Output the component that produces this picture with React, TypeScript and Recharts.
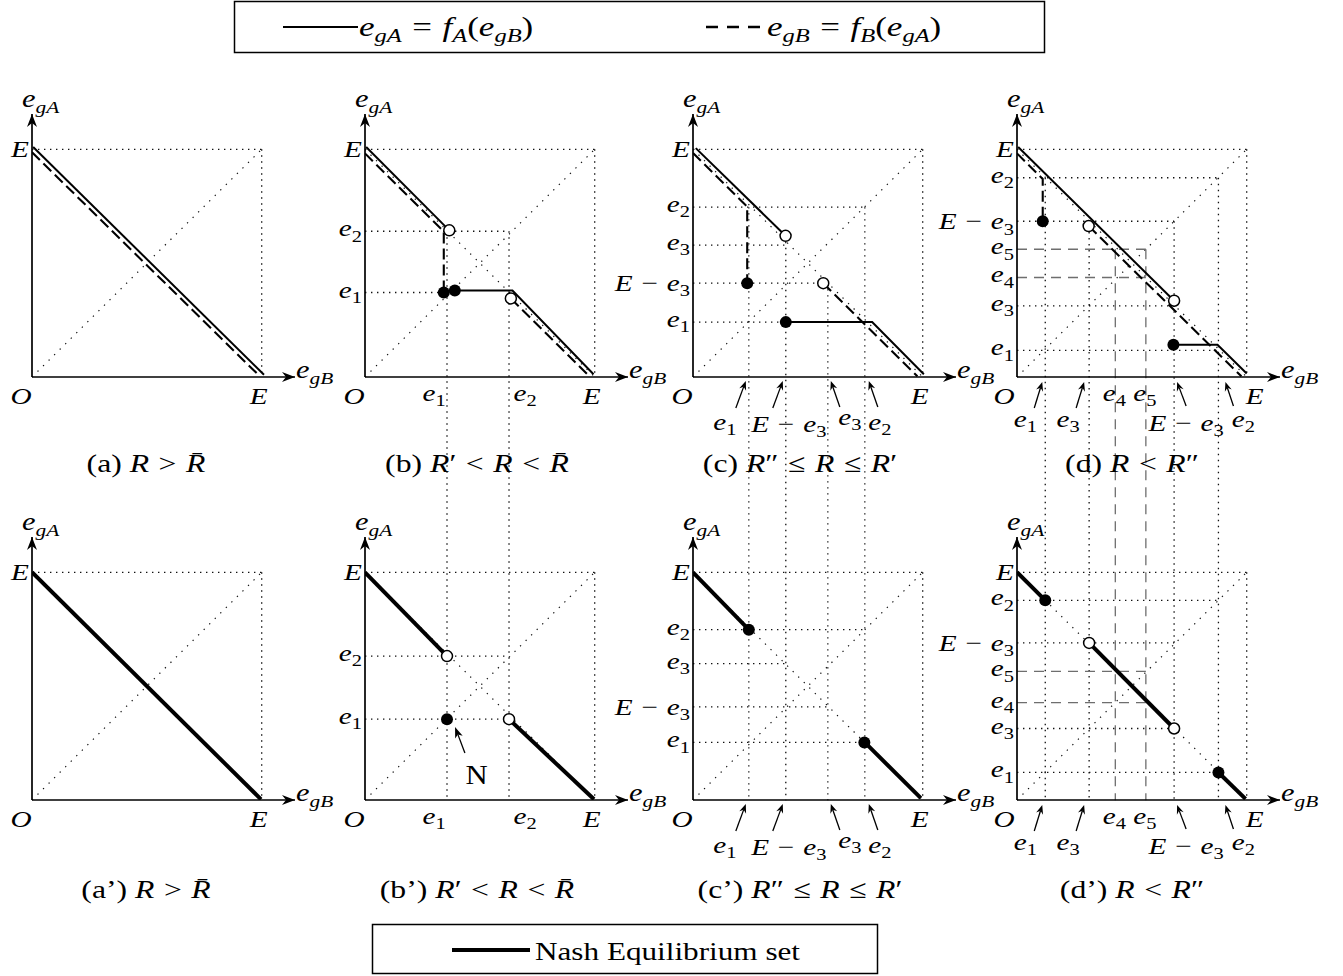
import React from 'react';
import { ComposedChart, XAxis, YAxis, Line, Scatter, ReferenceLine, ReferenceDot } from 'recharts';

type Pt = { x: number; y: number };
type Tick = { value: number; label: string };
type HLine = { y: number; to: number };
type VLine = { x: number; from: number };
type XPos = { dx: number; dy: number; arrow?: number[] };

// ---------- common values ----------
const E = 10;
const X_MAX = 11.45;
const Y_MAX = 11.55;
const ROW_GAP = 18.59; // distance (in y units) from top-row origin down to bottom-row origin

// ---------- legend / captions ----------
const legendTopLabels = ['e_{gA} = f_A(e_{gB})', 'e_{gB} = f_B(e_{gA})'];
const legendBottomLabel = '[Nash Equilibrium set]';
const captionsTop = ['[(a) ]R > R\u0304', '[(b) ]R\u2032 < R < R\u0304', '[(c) ]R\u2033 \u2264 R \u2264 R\u2032', '[(d) ]R < R\u2033'];
const captionsBottom = ['[(a\u2019) ]R > R\u0304', '[(b\u2019) ]R\u2032 < R < R\u0304', '[(c\u2019) ]R\u2033 \u2264 R \u2264 R\u2032', '[(d\u2019) ]R < R\u2033'];

// ---------- panel (a) ----------
const aXTicks: Tick[] = [{ value: 0, label: 'O' }, { value: 10, label: 'E' }];
const aYTicks: Tick[] = [{ value: 10, label: 'E' }];
const aSolid: Pt[] = [{ x: 0.05, y: 10.1 }, { x: 10.1, y: 0.1 }];
const aDashed: Pt[] = [{ x: 0, y: 9.87 }, { x: 9.9, y: 0.05 }];

// ---------- panel (b) ----------
const bXTicks: Tick[] = [{ value: 0, label: 'O' }, { value: 3.57, label: 'e_1' }, { value: 6.27, label: 'e_2' }, { value: 10, label: 'E' }];
const bYTicks: Tick[] = [{ value: 10, label: 'E' }, { value: 6.4, label: 'e_2' }, { value: 3.71, label: 'e_1' }];
const bSolidA: Pt[] = [{ x: 0.05, y: 10.1 }, { x: 3.67, y: 6.44 }];
const bSolidB: Pt[] = [{ x: 3.91, y: 3.8 }, { x: 6.42, y: 3.8 }, { x: 9.95, y: 0.12 }];
const bDashedA: Pt[] = [{ x: 0, y: 9.82 }, { x: 3.43, y: 6.39 }, { x: 3.43, y: 3.71 }];
const bDashedB: Pt[] = [{ x: 6.35, y: 3.45 }, { x: 9.77, y: 0.03 }];
const bFilled: Pt[] = [{ x: 3.43, y: 3.71 }, { x: 3.91, y: 3.8 }];
const bOpen: Pt[] = [{ x: 3.67, y: 6.44 }, { x: 6.35, y: 3.45 }];
const bHLines: HLine[] = [{ y: 6.4, to: 6.27 }, { y: 3.71, to: 3.57 }];
const bVLines: VLine[] = [{ x: 3.57, from: 6.4 }, { x: 6.27, from: 6.4 }];

// ---------- panel (c) ----------
const cXTicks: Tick[] = [{ value: 0, label: 'O' }, { value: 2.43, label: 'e_1' }, { value: 4.04, label: 'E − e_3' }, { value: 5.87, label: 'e_3' }, { value: 7.48, label: 'e_2' }, { value: 10, label: 'E' }];
const cYTicks: Tick[] = [{ value: 10, label: 'E' }, { value: 7.46, label: 'e_2' }, { value: 5.79, label: 'e_3' }, { value: 4.12, label: 'E − e_3' }, { value: 2.41, label: 'e_1' }];
const cSolidA: Pt[] = [{ x: 0.12, y: 10.05 }, { x: 4.03, y: 6.2 }];
const cSolidB: Pt[] = [{ x: 4.04, y: 2.41 }, { x: 7.8, y: 2.41 }, { x: 10.05, y: 0.12 }];
const cDashedA: Pt[] = [{ x: 0, y: 9.84 }, { x: 2.36, y: 7.48 }, { x: 2.36, y: 4.12 }];
const cDashedB: Pt[] = [{ x: 5.67, y: 4.12 }, { x: 9.77, y: 0.03 }];
const cFilled: Pt[] = [{ x: 2.36, y: 4.12 }, { x: 4.04, y: 2.41 }];
const cOpen: Pt[] = [{ x: 4.03, y: 6.2 }, { x: 5.67, y: 4.12 }];
const cHLines: HLine[] = [{ y: 7.46, to: 7.48 }, { y: 5.79, to: 4.04 }, { y: 4.12, to: 5.87 }, { y: 2.41, to: 4.04 }];
const cVLines: VLine[] = [{ x: 2.43, from: 7.46 }, { x: 4.04, from: 6.2 }, { x: 5.87, from: 4.12 }, { x: 7.48, from: 7.46 }];

// ---------- panel (d) ----------
const dXTicks: Tick[] = [{ value: 0, label: 'O' }, { value: 1.23, label: 'e_1' }, { value: 3.14, label: 'e_3' }, { value: 4.28, label: 'e_4' }, { value: 5.61, label: 'e_5' }, { value: 6.84, label: 'E − e_3' }, { value: 8.77, label: 'e_2' }, { value: 10, label: 'E' }];
const dYTicks: Tick[] = [{ value: 10, label: 'E' }, { value: 8.75, label: 'e_2' }, { value: 6.84, label: 'E − e_3' }, { value: 5.61, label: 'e_5' }, { value: 4.37, label: 'e_4' }, { value: 3.12, label: 'e_3' }, { value: 1.17, label: 'e_1' }];
const dSolidA: Pt[] = [{ x: 0.05, y: 10.1 }, { x: 6.84, y: 3.35 }];
const dSolidB: Pt[] = [{ x: 6.81, y: 1.42 }, { x: 8.73, y: 1.42 }, { x: 10, y: 0.15 }];
const dDashedA: Pt[] = [{ x: 0, y: 9.82 }, { x: 1.12, y: 8.7 }, { x: 1.12, y: 6.84 }];
const dDashedB: Pt[] = [{ x: 3.12, y: 6.63 }, { x: 9.77, y: 0.03 }];
const dFilled: Pt[] = [{ x: 1.12, y: 6.84 }, { x: 6.81, y: 1.42 }];
const dOpen: Pt[] = [{ x: 3.12, y: 6.63 }, { x: 6.84, y: 3.35 }];
const dHLines: HLine[] = [{ y: 8.75, to: 8.77 }, { y: 6.84, to: 6.84 }, { y: 3.12, to: 6.84 }, { y: 1.17, to: 8.77 }];
const dVLines: VLine[] = [{ x: 1.23, from: 8.75 }, { x: 3.14, from: 6.63 }, { x: 6.84, from: 6.84 }, { x: 8.77, from: 8.75 }];
const dGrayH: HLine[] = [{ y: 5.61, to: 5.61 }, { y: 4.37, to: 5.61 }];
const dGrayV: VLine[] = [{ x: 4.28, from: 5.61 }, { x: 5.61, from: 5.61 }];

// ---------- panel (a') ----------
const apThick: Pt[] = [{ x: 0, y: 10 }, { x: 9.97, y: 0.03 }];

// ---------- panel (b') ----------
const bpYTicks: Tick[] = [{ value: 10, label: 'E' }, { value: 6.32, label: 'e_2' }, { value: 3.55, label: 'e_1' }];
const bpThickA: Pt[] = [{ x: 0, y: 10 }, { x: 3.57, y: 6.32 }];
const bpThickB: Pt[] = [{ x: 6.27, y: 3.55 }, { x: 9.97, y: 0.03 }];
const bpFilled: Pt[] = [{ x: 3.57, y: 3.55 }];
const bpOpen: Pt[] = [{ x: 3.57, y: 6.32 }, { x: 6.27, y: 3.55 }];
const bpHLines: HLine[] = [{ y: 6.32, to: 6.27 }, { y: 3.55, to: 6.27 }];
const bpArrow: Pt[] = [{ x: 4.35, y: 2.06 }, { x: 3.92, y: 3.21 }];
const bpNote = { x: 4.86, y: 0.72, label: '[N]' };

// ---------- panel (c') ----------
const cpYTicks: Tick[] = [{ value: 10, label: 'E' }, { value: 7.48, label: 'e_2' }, { value: 5.99, label: 'e_3' }, { value: 4.09, label: 'E − e_3' }, { value: 2.53, label: 'e_1' }];
const cpThickA: Pt[] = [{ x: 0, y: 10 }, { x: 2.43, y: 7.48 }];
const cpThickB: Pt[] = [{ x: 7.48, y: 2.53 }, { x: 9.92, y: 0.08 }];
const cpFilled: Pt[] = [{ x: 2.43, y: 7.48 }, { x: 7.46, y: 2.53 }];
const cpHLines: HLine[] = [{ y: 7.48, to: 7.48 }, { y: 5.99, to: 4.04 }, { y: 4.09, to: 5.87 }, { y: 2.53, to: 7.48 }];

// ---------- panel (d') ----------
const dpYTicks: Tick[] = [{ value: 10, label: 'E' }, { value: 8.77, label: 'e_2' }, { value: 6.9, label: 'E − e_3' }, { value: 5.65, label: 'e_5' }, { value: 4.28, label: 'e_4' }, { value: 3.14, label: 'e_3' }, { value: 1.21, label: 'e_1' }];
const dpThickA: Pt[] = [{ x: 0, y: 10 }, { x: 1.23, y: 8.77 }];
const dpThickB: Pt[] = [{ x: 3.14, y: 6.9 }, { x: 6.84, y: 3.14 }];
const dpThickC: Pt[] = [{ x: 8.77, y: 1.21 }, { x: 9.95, y: 0.05 }];
const dpFilled: Pt[] = [{ x: 1.23, y: 8.77 }, { x: 8.77, y: 1.21 }];
const dpOpen: Pt[] = [{ x: 3.14, y: 6.9 }, { x: 6.84, y: 3.14 }];
const dpHLines: HLine[] = [{ y: 8.77, to: 8.77 }, { y: 6.9, to: 6.84 }, { y: 3.14, to: 6.84 }, { y: 1.21, to: 8.77 }];
const dpGrayH: HLine[] = [{ y: 5.65, to: 5.61 }, { y: 4.28, to: 5.61 }];

// ---------- layout (positions / styles) ----------
const COL_X = [32, 365, 693, 1016.7];
const ROW_Y = [376.7, 800];
const CAPTION_X = [146, 477, 800, 1132];
const CAPTION_Y = [472, 898];
const ML = 130, MR = 90, MT = 50, PW = 263, PH = 263, MB_TOP = 445, MB_BOT = 80;
const FONT = "'Liberation Serif', 'Times New Roman', Times, serif";
const STRETCH = 1.22;
const TICK_SIZE = 24;
const SUB_SHIFT = 0.22;
const OP_GAP = 0.3;

const aXPos: XPos[] = [{ dx: -11, dy: 27 }, { dx: -3, dy: 27 }];
const bXPos: XPos[] = [{ dx: -11, dy: 27 }, { dx: -13, dy: 24 }, { dx: 16, dy: 24 }, { dx: -3, dy: 27 }];
const cXPos: XPos[] = [
  { dx: -11, dy: 27 },
  { dx: -24, dy: 53, arrow: [-13, 31, -3, 4] },
  { dx: 3, dy: 55, arrow: [-13, 31, -3, 4] },
  { dx: 22, dy: 48, arrow: [12, 30, 3, 4] },
  { dx: 15, dy: 53, arrow: [13, 30, 4, 4] },
  { dx: -3, dy: 27 },
];
const dXPos: XPos[] = [
  { dx: -13, dy: 27 },
  { dx: -20, dy: 50, arrow: [-11, 31, -3, 5] },
  { dx: -21, dy: 50, arrow: [-13, 31, -5, 5] },
  { dx: -1, dy: 24 },
  { dx: -1, dy: 24 },
  { dx: 12, dy: 54, arrow: [12, 29, 3, 5] },
  { dx: 25, dy: 50, arrow: [15, 29, 7, 5] },
  { dx: 8, dy: 27 },
];

const AXIS = { stroke: '#000', strokeWidth: 1.7 };
const DOT = { stroke: '#111', strokeWidth: 1.3, strokeDasharray: '1.4 4.6' };
const DIAG = { stroke: '#111', strokeWidth: 1.2, strokeDasharray: '1.3 6.5' };
const GRAY = { stroke: '#6e6e6e', strokeWidth: 1.3, strokeDasharray: '10 7' };

// ---------- math text helper ----------
type Tok = { t: string; italic: boolean; sub: boolean; op: boolean };
function tokenize(s: string): Tok[] {
  const out: Tok[] = [];
  let i = 0;
  while (i < s.length) {
    const c = s[i];
    if (c === '[') {
      const j = s.indexOf(']', i);
      out.push({ t: s.slice(i + 1, j), italic: false, sub: false, op: false });
      i = j + 1;
      continue;
    }
    if (c === '_') {
      let grp: string;
      if (s[i + 1] === '{') {
        const j = s.indexOf('}', i);
        grp = s.slice(i + 2, j);
        i = j + 1;
      } else {
        grp = s[i + 1];
        i += 2;
      }
      for (const g of grp) out.push({ t: g, italic: /[A-Za-z]/.test(g), sub: true, op: false });
      continue;
    }
    if (c === ' ') { i++; continue; }
    if (c === '\u0304') {
      if (out.length) out[out.length - 1].t += c;
      i++;
      continue;
    }
    if ('−=<>≤'.includes(c)) {
      out.push({ t: c, italic: false, sub: false, op: true });
      i++;
      continue;
    }
    out.push({ t: c, italic: /[A-Za-z]/.test(c), sub: false, op: false });
    i++;
  }
  return out;
}

function MathText({ x, y, s, size = TICK_SIZE, anchor = 'start', stretch = STRETCH }: { x: number; y: number; s: string; size?: number; anchor?: string; stretch?: number }) {
  const toks = tokenize(s);
  const kids: React.ReactNode[] = [];
  let cur = 0;
  let pend = 0;
  toks.forEach((t, i) => {
    const target = t.sub ? size * SUB_SHIFT : 0;
    const dy = target - cur;
    cur = target;
    let dx = pend;
    pend = 0;
    if (t.op) {
      dx += size * OP_GAP;
      pend = size * OP_GAP;
    }
    kids.push(
      <tspan key={i} dy={dy !== 0 ? dy : undefined} dx={dx !== 0 ? dx : undefined} fontSize={t.sub ? size * 0.7 : size} fontStyle={t.italic ? 'italic' : 'normal'}>
        {t.t}
      </tspan>
    );
  });
  return (
    <g transform={`translate(${x},${y}) scale(${stretch},1)`}>
      <text x={0} y={0} textAnchor={anchor as any} fontFamily={FONT} fill="#000" style={{ whiteSpace: 'pre' }}>
        {kids}
      </text>
    </g>
  );
}

function headPts(x1: number, y1: number, x2: number, y2: number, len: number, half: number, notch: number) {
  const L = Math.hypot(x2 - x1, y2 - y1) || 1;
  const ux = (x2 - x1) / L, uy = (y2 - y1) / L;
  const px = -uy, py = ux;
  const bx = x2 - ux * len, by = y2 - uy * len;
  return `${x2},${y2} ${bx + px * half},${by + py * half} ${x2 - ux * (len - notch)},${y2 - uy * (len - notch)} ${bx - px * half},${by - py * half}`;
}

function Arrow({ x1, y1, x2, y2, w = 1.3, len = 9, half = 3.6 }: { x1: number; y1: number; x2: number; y2: number; w?: number; len?: number; half?: number }) {
  const L = Math.hypot(x2 - x1, y2 - y1) || 1;
  const ux = (x2 - x1) / L, uy = (y2 - y1) / L;
  return (
    <g>
      <line x1={x1} y1={y1} x2={x2 - ux * (len - 3)} y2={y2 - uy * (len - 3)} stroke="#000" strokeWidth={w} />
      <polygon points={headPts(x1, y1, x2, y2, len, half, 3)} fill="#000" />
    </g>
  );
}

// ---------- panel config ----------
interface PanelCfg {
  col: number;
  row: number;
  xTicks: Tick[];
  xPos: XPos[];
  yTicks: Tick[];
  solid?: Pt[][];
  dashed?: Pt[][];
  thick?: Pt[][];
  filled?: Pt[];
  open?: Pt[];
  hLines?: HLine[];
  vLines?: VLine[];
  grayH?: HLine[];
  grayV?: VLine[];
  anti?: boolean;
  arrows?: Pt[][];
  notes?: { x: number; y: number; label: string }[];
}

const panels: PanelCfg[] = [
  { col: 0, row: 0, xTicks: aXTicks, xPos: aXPos, yTicks: aYTicks, solid: [aSolid], dashed: [aDashed] },
  { col: 1, row: 0, xTicks: bXTicks, xPos: bXPos, yTicks: bYTicks, solid: [bSolidA, bSolidB], dashed: [bDashedA, bDashedB], filled: bFilled, open: bOpen, hLines: bHLines, vLines: bVLines, anti: true },
  { col: 2, row: 0, xTicks: cXTicks, xPos: cXPos, yTicks: cYTicks, solid: [cSolidA, cSolidB], dashed: [cDashedA, cDashedB], filled: cFilled, open: cOpen, hLines: cHLines, vLines: cVLines, anti: true },
  { col: 3, row: 0, xTicks: dXTicks, xPos: dXPos, yTicks: dYTicks, solid: [dSolidA, dSolidB], dashed: [dDashedA, dDashedB], filled: dFilled, open: dOpen, hLines: dHLines, vLines: dVLines, grayH: dGrayH, grayV: dGrayV, anti: true },
  { col: 0, row: 1, xTicks: aXTicks, xPos: aXPos, yTicks: aYTicks, thick: [apThick] },
  { col: 1, row: 1, xTicks: bXTicks, xPos: bXPos, yTicks: bpYTicks, thick: [bpThickA, bpThickB], filled: bpFilled, open: bpOpen, hLines: bpHLines, anti: true, arrows: [bpArrow], notes: [bpNote] },
  { col: 2, row: 1, xTicks: cXTicks, xPos: cXPos, yTicks: cpYTicks, thick: [cpThickA, cpThickB], filled: cpFilled, hLines: cpHLines, anti: true },
  { col: 3, row: 1, xTicks: dXTicks, xPos: dXPos, yTicks: dpYTicks, thick: [dpThickA, dpThickB, dpThickC], filled: dpFilled, open: dpOpen, hLines: dpHLines, grayH: dpGrayH, anti: true },
];

function yDy(label: string) {
  if (label === 'E') return 8;
  if (label.startsWith('E')) return 8;
  return 5;
}

function Panel({ cfg }: { cfg: PanelCfg }) {
  const top = cfg.row === 0;
  const mb = top ? MB_TOP : MB_BOT;
  const W = ML + PW + MR;
  const H = MT + PH + mb;
  const axisX = ML;
  const axisY = MT + PH;
  const floor = top ? -ROW_GAP : 0;
  const ox = COL_X[cfg.col];
  const oy = ROW_Y[cfg.row];

  const findIdx = (ticks: Tick[], v: number) => ticks.findIndex((t) => Math.abs(t.value - v) < 1e-6);

  const xTick = (props: any) => {
    const { x, payload } = props;
    const i = findIdx(cfg.xTicks, payload.value);
    if (i < 0) return <g />;
    const p = cfg.xPos[i];
    return (
      <g>
        {p.arrow ? <Arrow x1={x + p.arrow[0]} y1={axisY + p.arrow[1]} x2={x + p.arrow[2]} y2={axisY + p.arrow[3]} /> : null}
        <MathText x={x + p.dx} y={axisY + p.dy} s={cfg.xTicks[i].label} anchor="middle" />
      </g>
    );
  };
  const yTick = (props: any) => {
    const { y, payload } = props;
    const i = findIdx(cfg.yTicks, payload.value);
    if (i < 0) return <g />;
    const lab = cfg.yTicks[i].label;
    return <MathText x={axisX - 3} y={y + yDy(lab)} s={lab} anchor="end" />;
  };

  const refs: React.ReactNode[] = [];
  const seg = (a: Pt, b: Pt, style: any, key: string) =>
    refs.push(<ReferenceLine key={key} segment={[a, b]} ifOverflow="visible" {...style} />);
  seg({ x: 0, y: E }, { x: E, y: E }, DOT, 'bt');
  seg({ x: E, y: E }, { x: E, y: 0 }, DOT, 'br');
  seg({ x: 0, y: 0 }, { x: E, y: E }, DIAG, 'dg');
  if (cfg.anti) seg({ x: 0, y: E }, { x: E, y: 0 }, DIAG, 'ad');
  (cfg.hLines || []).forEach((h, i) => seg({ x: 0, y: h.y }, { x: h.to, y: h.y }, DOT, 'h' + i));
  (cfg.vLines || []).forEach((v, i) => seg({ x: v.x, y: v.from }, { x: v.x, y: floor }, DOT, 'v' + i));
  (cfg.grayH || []).forEach((h, i) => seg({ x: 0, y: h.y }, { x: h.to, y: h.y }, GRAY, 'gh' + i));
  (cfg.grayV || []).forEach((v, i) => seg({ x: v.x, y: v.from }, { x: v.x, y: floor }, GRAY, 'gv' + i));

  return (
    <div style={{ position: 'absolute', left: ox - ML, top: oy - PH - MT, width: W, height: H }}>
      <ComposedChart width={W} height={H} margin={{ top: MT, right: MR, bottom: 0, left: 0 }}>
        <XAxis
          type="number"
          dataKey="x"
          domain={[0, X_MAX]}
          allowDataOverflow
          height={mb}
          ticks={cfg.xTicks.map((t) => t.value)}
          interval={0}
          tickLine={false}
          axisLine={AXIS}
          tick={xTick}
        />
        <YAxis
          type="number"
          dataKey="y"
          domain={[0, Y_MAX]}
          allowDataOverflow
          width={ML}
          ticks={cfg.yTicks.map((t) => t.value)}
          interval={0}
          tickLine={false}
          axisLine={AXIS}
          tick={yTick}
        />
        {refs}
        {(cfg.dashed || []).map((d, i) => (
          <Line key={'ds' + i} data={d} dataKey="y" stroke="#000" strokeWidth={2.1} strokeDasharray="11 5" dot={false} activeDot={false} isAnimationActive={false} />
        ))}
        {(cfg.solid || []).map((d, i) => (
          <Line key={'sl' + i} data={d} dataKey="y" stroke="#000" strokeWidth={2} dot={false} activeDot={false} isAnimationActive={false} />
        ))}
        {(cfg.thick || []).map((d, i) => (
          <Line key={'th' + i} data={d} dataKey="y" stroke="#000" strokeWidth={4} dot={false} activeDot={false} isAnimationActive={false} />
        ))}
        {(cfg.arrows || []).map((a, i) => (
          <ReferenceLine key={'ar' + i} segment={[a[0], a[1]]} ifOverflow="visible" shape={(p: any) => <Arrow x1={p.x1} y1={p.y1} x2={p.x2} y2={p.y2} len={11} half={4} />} />
        ))}
        {(cfg.notes || []).map((n, i) => (
          <ReferenceDot key={'nt' + i} x={n.x} y={n.y} r={1} ifOverflow="visible" shape={(p: any) => <MathText x={p.cx} y={p.cy} s={n.label} size={28} anchor="middle" stretch={1.1} />} />
        ))}
        {cfg.filled && cfg.filled.length ? (
          <Scatter data={cfg.filled} dataKey="y" isAnimationActive={false} shape={(p: any) => <circle cx={p.cx} cy={p.cy} r={6} fill="#000" />} />
        ) : null}
        {cfg.open && cfg.open.length ? (
          <Scatter data={cfg.open} dataKey="y" isAnimationActive={false} shape={(p: any) => <circle cx={p.cx} cy={p.cy} r={5.5} fill="#fff" stroke="#000" strokeWidth={1.5} />} />
        ) : null}
        <ReferenceDot
          x={X_MAX}
          y={0}
          r={1}
          ifOverflow="visible"
          shape={(p: any) => (
            <g>
              <polygon points={headPts(p.cx - 20, p.cy, p.cx, p.cy, 13, 5, 4)} fill="#000" />
              <MathText x={p.cx + 1} y={p.cy + 1} s="e_{gB}" size={25} />
            </g>
          )}
        />
        <ReferenceDot
          x={0}
          y={Y_MAX}
          r={1}
          ifOverflow="visible"
          shape={(p: any) => (
            <g>
              <polygon points={headPts(p.cx, p.cy + 20, p.cx, p.cy, 13, 5, 4)} fill="#000" />
              <MathText x={p.cx - 10} y={p.cy - 7} s="e_{gA}" size={25} />
            </g>
          )}
        />
      </ComposedChart>
    </div>
  );
}

export default function App() {
  return (
    <div style={{ position: 'absolute', left: 0, top: 0, width: 1343, height: 976, overflow: 'hidden', background: '#fff' }}>
      {panels.map((p, i) => (
        <Panel key={i} cfg={p} />
      ))}
      <svg width={1343} height={976} style={{ position: 'absolute', left: 0, top: 0, pointerEvents: 'none' }}>
        <rect x={234.5} y={1.5} width={810} height={51} fill="none" stroke="#000" strokeWidth={1.5} />
        <line x1={283} y1={27} x2={358} y2={27} stroke="#000" strokeWidth={2.2} />
        <MathText x={359} y={36} s={legendTopLabels[0]} size={28} stretch={1.25} />
        <line x1={706} y1={27} x2={762} y2={27} stroke="#000" strokeWidth={2.4} strokeDasharray="12 9" />
        <MathText x={767} y={36} s={legendTopLabels[1]} size={28} stretch={1.25} />
        {captionsTop.map((c, i) => (
          <MathText key={'ct' + i} x={CAPTION_X[i]} y={CAPTION_Y[0]} s={c} size={26} anchor="middle" stretch={1.22} />
        ))}
        {captionsBottom.map((c, i) => (
          <MathText key={'cb' + i} x={CAPTION_X[i]} y={CAPTION_Y[1]} s={c} size={26} anchor="middle" stretch={1.22} />
        ))}
        <rect x={372.5} y={924.5} width={505} height={49} fill="none" stroke="#000" strokeWidth={1.5} />
        <line x1={452} y1={950} x2={530} y2={950} stroke="#000" strokeWidth={3.8} />
        <MathText x={535} y={960} s={legendBottomLabel} size={26} stretch={1.2} />
      </svg>
    </div>
  );
}
